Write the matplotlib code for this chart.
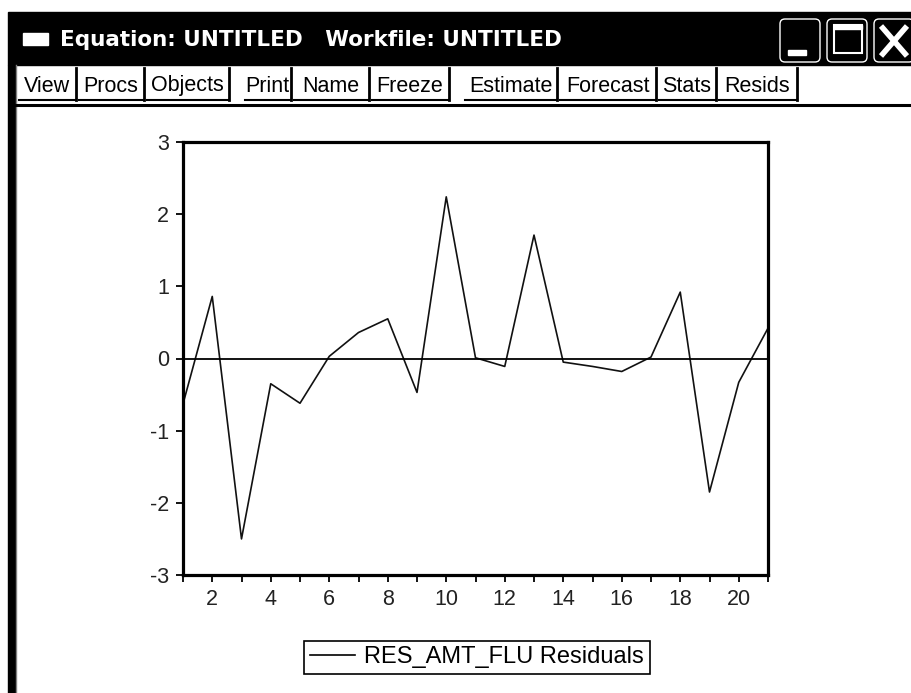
import matplotlib
matplotlib.use("Agg")
import matplotlib.pyplot as plt
from matplotlib.patches import Rectangle, FancyBboxPatch

# data
obs = list(range(1, 22))
resid = [-0.63, 0.86, -2.50, -0.35, -0.62, 0.03, 0.36, 0.55, -0.47, 2.24,
         0.01, -0.11, 1.71, -0.05, -0.11, -0.18, 0.02, 0.92, -1.85, -0.33, 0.42]
yticks = [-3, -2, -1, 0, 1, 2, 3]
xlabels = [2, 4, 6, 8, 10, 12, 14, 16, 18, 20]
series_name = "RES_AMT_FLU Residuals"
title = "Equation: UNTITLED   Workfile: UNTITLED"
buttons = ["View", "Procs", "Objects", "Print", "Name", "Freeze",
           "Estimate", "Forecast", "Stats", "Resids"]
button_edges = [(17, 77), (77, 145), (145, 230), (243, 292), (292, 370), (370, 450),
                (463, 558), (558, 657), (657, 717), (717, 798)]

W, H = 911, 693
fig = plt.figure(figsize=(W / 100, H / 100), dpi=100, facecolor="white")

# window chrome drawn in pixel coords
bg = fig.add_axes([0, 0, 1, 1], zorder=0)
bg.set_xlim(0, W)
bg.set_ylim(H, 0)
bg.axis("off")

bg.add_patch(Rectangle((8, 12), W - 8, 53, color="black"))
bg.add_patch(Rectangle((8, 65), 7, H - 65, color="black"))
bg.plot([16, 16], [65, H], color="#808080", lw=1)
bg.add_patch(Rectangle((23, 33), 25, 12, color="white"))
bg.text(60, 40, title, color="white", fontsize=15.5, fontweight="bold",
        family="DejaVu Sans", va="center", ha="left")

# min / max / close boxes
for x0 in [779, 826, 873]:
    bg.add_patch(FancyBboxPatch((x0 + 1, 19), 40, 43,
                                boxstyle="round,pad=0,rounding_size=5",
                                ec="white", fc="black", lw=1.0))
bg.add_patch(Rectangle((788, 50), 18, 5, color="white"))
bg.add_patch(Rectangle((834, 25), 28, 28, fill=False, ec="white", lw=1.5))
bg.add_patch(Rectangle((834, 25), 28, 4, color="white"))
bg.plot([881, 907], [26, 56], color="white", lw=4, solid_capstyle="butt")
bg.plot([881, 907], [56, 26], color="white", lw=4, solid_capstyle="butt")

# toolbar
for name, (x0, x1) in zip(buttons, button_edges):
    bg.text((x0 + x1) / 2, 86, name, fontsize=15.5, family="Liberation Sans",
            ha="center", va="center", color="black")
    bg.plot([x1 - 1, x1 - 1], [68, 100], color="black", lw=2)
    bg.plot([x0 + 2, x1 - 1], [100, 100], color="black", lw=1.5)
bg.plot([15, W], [104.5, 104.5], color="black", lw=2.2)

# residual graph
ax = fig.add_axes([183 / W, 1 - 575 / H, 585 / W, 433 / H], zorder=1)
ax.plot(obs, resid, color="#111111", lw=1.2, label=series_name)
ax.axhline(0, color="black", lw=1.3)
ax.set_xlim(1, 21)
ax.set_ylim(-3, 3)
ax.set_yticks(yticks)
ax.set_yticklabels([str(v) for v in yticks])
ax.set_xticks(obs, minor=True)
ax.set_xticks(xlabels)
ax.set_xticklabels([str(v) for v in xlabels])
for s in ax.spines.values():
    s.set_linewidth(2.3)
ax.tick_params(which="both", direction="out", length=5, width=1.3, color="black")
ax.tick_params(axis="both", labelsize=15.5, pad=5, labelcolor="#222222")
for lab in ax.get_xticklabels() + ax.get_yticklabels():
    lab.set_family("Liberation Sans")

leg = fig.legend(loc="center", bbox_to_anchor=(477 / W, 1 - 657.5 / H),
                 fancybox=False, edgecolor="black", framealpha=1,
                 prop={"family": "Liberation Sans", "size": 17},
                 handlelength=1.9, handletextpad=0.4, borderpad=0.25, borderaxespad=0)
leg.get_frame().set_linewidth(1.2)
for ln in leg.get_lines():
    ln.set_linewidth(1.2)
    ln.set_color("black")

fig.savefig("out.png", dpi=100, facecolor="white")
